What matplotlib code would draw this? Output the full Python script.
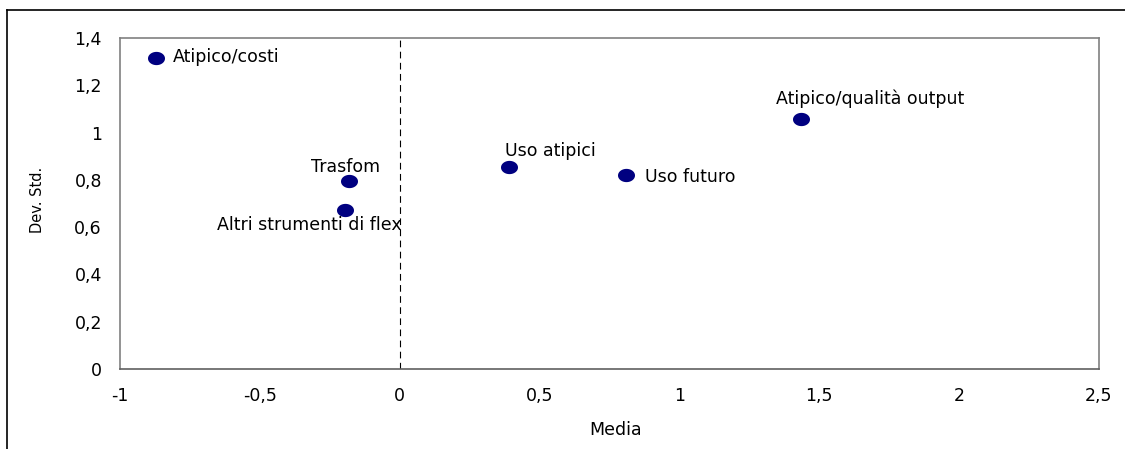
import matplotlib
matplotlib.use("Agg")
import matplotlib.pyplot as plt
import numpy as np
from matplotlib.path import Path
from matplotlib.lines import Line2D

plt.rcParams['font.family'] = ['DejaVu Sans']

labels = ["Atipico/costi", "Trasfom", "Altri strumenti di flex",
          "Uso atipici", "Uso futuro", "Atipico/qualità output"]
media = [-0.87, -0.18, -0.195, 0.39, 0.81, 1.435]
devstd = [1.315, 0.795, 0.673, 0.855, 0.822, 1.058]
# label offsets in points (dx, dy) and horizontal alignment (baseline anchored)
offsets = [(12, -3, 'left'),
           (-3, 6.5, 'center'),
           (-26, -14.4, 'center'),
           (30, 8, 'center'),
           (13.7, -5, 'left'),
           (49.7, 10.8, 'center')]

xticks = [-1, -0.5, 0, 0.5, 1, 1.5, 2, 2.5]
xticklabels = ["-1", "-0,5", "0", "0,5", "1", "1,5", "2", "2,5"]
yticks = [0, 0.2, 0.4, 0.6, 0.8, 1.0, 1.2, 1.4]
yticklabels = ["0", "0,2", "0,4", "0,6", "0,8", "1", "1,2", "1,4"]

FS = 12.5
fig = plt.figure(figsize=(11.25, 4.49), dpi=100)
W, H = 1125, 449
ax = fig.add_axes([120 / W, 1 - 369 / H, (1099 - 120) / W, (369 - 38) / H])

# ellipse marker
t = np.linspace(0, 2 * np.pi, 60)
ell = Path(np.column_stack([np.cos(t), 0.78 * np.sin(t)]), closed=True)

ax.scatter(media, devstd, marker=ell, s=150, color='#000080', zorder=3, linewidths=0)
ax.axvline(0, color='black', linestyle=(0, (6, 4)), linewidth=0.8, zorder=1)

for lab, x, y, (dx, dy, ha) in zip(labels, media, devstd, offsets):
    ax.annotate(lab, (x, y), xytext=(dx, dy), textcoords='offset points',
                ha=ha, va='baseline', fontsize=FS, color='black')

ax.set_xlim(-1, 2.5)
ax.set_ylim(0, 1.4)
ax.set_xticks(xticks)
ax.set_xticklabels(xticklabels)
ax.set_yticks(yticks)
ax.set_yticklabels(yticklabels)
ax.tick_params(length=0, labelsize=FS)
ax.tick_params(axis='x', pad=13)
ax.tick_params(axis='y', pad=13)
for s in ax.spines.values():
    s.set_color('#808080')
    s.set_linewidth(1.2)
ax.spines['bottom'].set_color('#606060')

fig.text(616 / W, 1 - 435 / H, "Media", fontsize=FS, ha='center', va='baseline')
fig.text(37 / W, 1 - 200 / H, "Dev. Std.", fontsize=10.5, ha='center', va='center', rotation=90)

# outer frame (left + top only)
fig.add_artist(Line2D([7 / W, 7 / W], [0, 1 - 10 / H], transform=fig.transFigure, color='black', linewidth=1.2))
fig.add_artist(Line2D([7 / W, 1], [1 - 10 / H, 1 - 10 / H], transform=fig.transFigure, color='black', linewidth=1.2))

fig.savefig("out.png", dpi=100, facecolor='white')
